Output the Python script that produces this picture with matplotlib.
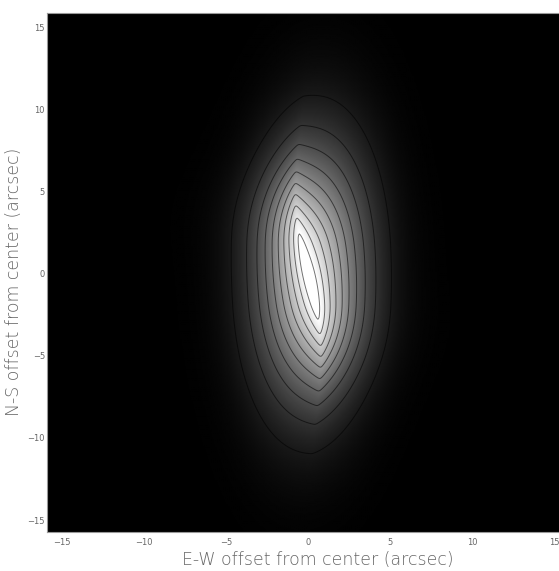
import numpy as np
import matplotlib
matplotlib.use("Agg")
import matplotlib.pyplot as plt

# ---- source model (arcsec, levels relative to saturation) ----
# smooth disk, slightly tilted (top to the west)
disk_center = [0.25, 0.0]
disk_amp = 0.6
disk_sig = [2.4, 5.6]        # sigma E-W, N-S
disk_pa = -3.0               # deg from vertical, + = top toward east (left)

# bright bar in the core (the saturated strip), bent into a shallow S
bar_x0 = 0.0
bar_shear = -0.26            # E-W shift of the ridge per arcsec N-S near the centre
bar_bend = 5.0               # N-S scale where the shear dies away
bar_amp = 0.5
bar_scale = 1.56             # exponential fall-off across the bar
bar_soft = 0.08              # rounding of the ridge
bar_halflen = 1.8            # flat part of the ridge
bar_sig_end = 3.4            # gaussian fall-off beyond the flat part

contour_levels = [0.1, 0.2, 0.3, 0.4, 0.5, 0.6, 0.7, 0.8, 0.9, 1.0]
ticks = [-15, -10, -5, 0, 5, 10, 15]

# ---- build image ----
grid = np.linspace(-16, 16, 481)
xx, yy = np.meshgrid(grid, grid)

t = np.deg2rad(disk_pa)
dx, dy = xx - disk_center[0], yy - disk_center[1]
u = dx * np.cos(t) + dy * np.sin(t)
v = -dx * np.sin(t) + dy * np.cos(t)
img = disk_amp * np.exp(-0.5 * ((u / disk_sig[0]) ** 2 + (v / disk_sig[1]) ** 2))

ridge = bar_x0 + bar_shear * yy * np.exp(-0.5 * (yy / bar_bend) ** 2)
across = np.sqrt((xx - ridge) ** 2 + bar_soft ** 2) - bar_soft
beyond = np.clip(np.abs(yy) - bar_halflen, 0, None)
img += bar_amp * np.exp(-across / bar_scale) * np.exp(-0.5 * (beyond / bar_sig_end) ** 2)

fig = plt.figure(figsize=(5.59, 5.71), dpi=100)
ax = fig.add_axes([0.0841, 0.0630, 0.934, 0.9194])
ax.imshow(img, cmap="gray", vmin=0, vmax=1, origin="lower",
          extent=[-16, 16, -16, 16], interpolation="bilinear")
ax.contour(xx, yy, img, levels=contour_levels, colors="k",
           linewidths=0.7, alpha=0.55)
ax.set_xlim(-15.9, 15.9)
ax.set_ylim(-15.75, 15.9)

txt = "#666666"
ax.set_xticks(ticks)
ax.set_yticks(ticks)
ax.tick_params(length=0, labelsize=6, colors=txt)
ax.tick_params(axis="x", pad=4)
ax.tick_params(axis="y", pad=1.5)
for s in ax.spines.values():
    s.set_color("#999999")
    s.set_linewidth(0.8)

ax.set_xlabel("E-W offset from center (arcsec)", fontsize=12.5, color=txt,
              fontweight="light", va="center")
ax.set_ylabel("N-S offset from center (arcsec)", fontsize=12.5, color=txt,
              fontweight="light", va="center")
ax.xaxis.set_label_coords(0.519, -0.053)
ax.yaxis.set_label_coords(-0.063, 0.482)

fig.savefig("out.png", dpi=100)
